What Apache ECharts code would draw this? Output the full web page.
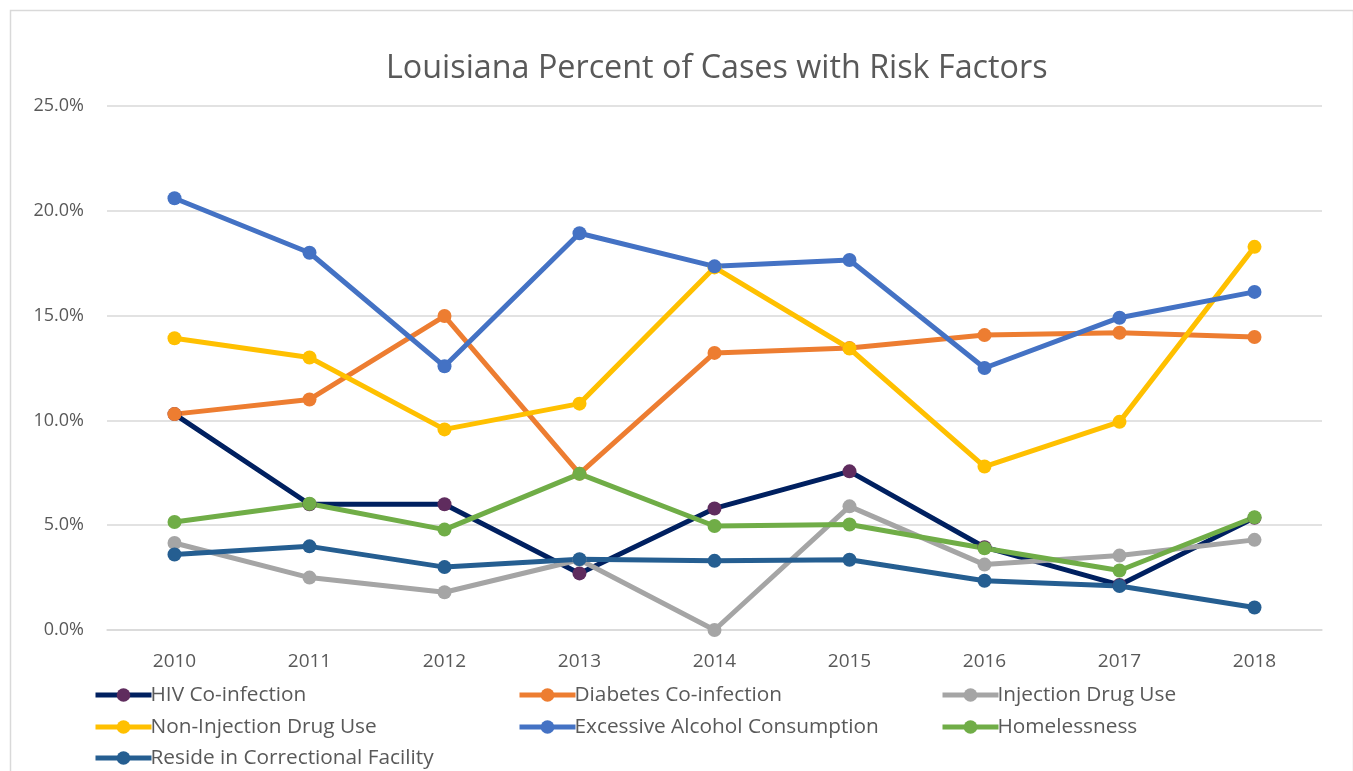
<!DOCTYPE html>
<html>
<head>
<meta charset="utf-8">
<script src="https://cdn.jsdelivr.net/npm/echarts@6/dist/echarts.min.js"></script>
<style>
html,body{margin:0;padding:0;background:#fff;}
#chart{width:1353px;height:771px;}
</style>
</head>
<body>
<div id="chart"></div>
<script>
const years = ['2010','2011','2012','2013','2014','2015','2016','2017','2018'];
const hiv = [10.3, 6.0, 6.0, 2.7, 5.8, 7.57, 3.95, 2.15, 5.35];
const diabetes = [10.3, 11.0, 14.98, 7.46, 13.22, 13.45, 14.07, 14.18, 13.98];
const injection = [4.15, 2.5, 1.8, 3.35, 0.0, 5.9, 3.12, 3.55, 4.3];
const nonInjection = [13.92, 13.0, 9.57, 10.8, 17.3, 13.43, 7.8, 9.93, 18.28];
const alcohol = [20.6, 18.0, 12.58, 18.93, 17.35, 17.65, 12.5, 14.9, 16.13];
const homeless = [5.15, 6.02, 4.79, 7.45, 4.96, 5.03, 3.9, 2.84, 5.38];
const correctional = [3.6, 3.99, 3.0, 3.38, 3.3, 3.35, 2.35, 2.1, 1.07];
const yTicks = [0, 5, 10, 15, 20, 25];

const FONT = '"Open Sans", "Noto Sans", sans-serif';
const TXT = '#595959';

function mkSeries(name, data, lineColor, markerColor) {
  return {
    name: name, type: 'line', data: data,
    symbol: 'circle', symbolSize: 14,
    lineStyle: {color: lineColor, width: 5},
    itemStyle: {color: markerColor || lineColor},
    emphasis: {disabled: true},
    animation: false
  };
}

const series = [
  mkSeries('HIV Co-infection', hiv, '#002060', '#5F2C5E'),
  mkSeries('Diabetes Co-infection', diabetes, '#ED7D31'),
  mkSeries('Injection Drug Use', injection, '#A5A5A5'),
  mkSeries('Non-Injection Drug Use', nonInjection, '#FFC000'),
  mkSeries('Excessive Alcohol Consumption', alcohol, '#4472C4'),
  mkSeries('Homelessness', homeless, '#70AD47'),
  mkSeries('Reside in Correctional Facility', correctional, '#255E91')
];

function mkLegend(left, centerY, name) {
  return {
    orient: 'horizontal', left: left, top: centerY - 14, padding: 0,
    itemWidth: 56, itemHeight: 17, itemGap: 0,
    lineStyle: {width: 5},
    textStyle: {fontFamily: FONT, fontSize: 20.8, color: TXT, padding: [0,0,0,-6], lineHeight: 28},
    data: [name], selectedMode: false
  };
}

const chart = echarts.init(document.getElementById('chart'), null, {renderer: 'canvas'});
chart.setOption({
  animation: false,
  backgroundColor: '#fff',
  title: {
    text: 'Louisiana Percent of Cases with Risk Factors',
    left: 386, top: 53, padding: 0,
    textStyle: {fontFamily: FONT, fontSize: 32.3, fontWeight: 'normal', color: TXT}
  },
  graphic: [{
    type: 'rect', left: 8, top: 8, silent: true,
    shape: {width: 1343, height: 780},
    style: {fill: 'none', stroke: '#D9D9D9', lineWidth: 1.5}
  }],
  legend: [
    mkLegend(93, 695, 'HIV Co-infection'),
    mkLegend(93, 727, 'Non-Injection Drug Use'),
    mkLegend(93, 758, 'Reside in Correctional Facility'),
    mkLegend(517, 695, 'Diabetes Co-infection'),
    mkLegend(517, 727, 'Excessive Alcohol Consumption'),
    mkLegend(940, 695, 'Injection Drug Use'),
    mkLegend(940, 727, 'Homelessness')
  ],
  grid: {left: 107, top: 106, width: 1215, height: 524, containLabel: false},
  xAxis: {
    type: 'category', data: years, boundaryGap: true,
    axisLine: {show: true, lineStyle: {color: '#D9D9D9', width: 1.5}},
    axisTick: {show: false},
    axisLabel: {fontFamily: FONT, fontSize: 19, color: TXT, margin: 22}
  },
  yAxis: {
    type: 'value', min: yTicks[0], max: yTicks[yTicks.length-1], interval: 5,
    axisLine: {show: false}, axisTick: {show: false},
    splitLine: {lineStyle: {color: '#D9D9D9', width: 1.5}},
    axisLabel: {fontFamily: FONT, fontSize: 18, color: TXT, margin: 23,
      formatter: v => v.toFixed(1) + '%'}
  },
  series: series
});
</script>
</body>
</html>
